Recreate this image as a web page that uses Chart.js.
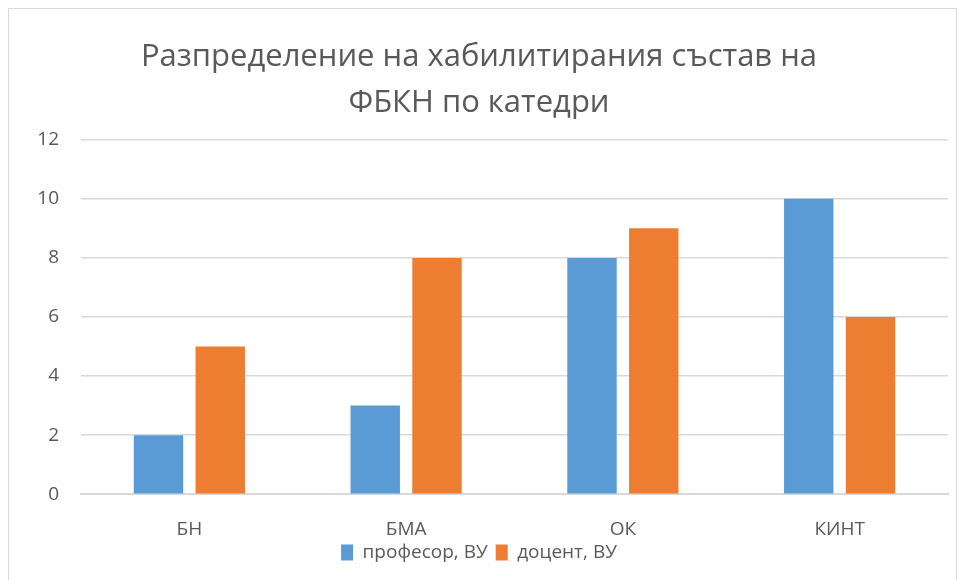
<!DOCTYPE html>
<html>
<head>
<meta charset="utf-8">
<script src="https://cdn.jsdelivr.net/npm/chart.js"></script>
<style>
  html, body { margin: 0; padding: 0; background: #fff; }
  #wrap { position: relative; width: 963px; height: 580px; }
  #frame { position: absolute; left: 8px; top: 8px; width: 949px; height: 600px; border: 1px solid #d9d9d9; box-sizing: border-box; }
  canvas { position: absolute; left: 0; top: 0; }
</style>
</head>
<body>
<div id="wrap">
  <div id="frame"></div>
  <canvas id="chart" width="963" height="580"></canvas>
</div>
<script>
const categories = ["БН", "БМА", "ОК", "КИНТ"];
const seriesNames = ["професор, ВУ", "доцент, ВУ"];
const professors = [2, 3, 8, 10];
const docents = [5, 8, 9, 6];
const titleLines = ["Разпределение на хабилитирания състав на", "ФБКН по катедри"];

const fontFamily = "'Open Sans', sans-serif";

// legend box is taller than in the original: reserve less room for it,
// then pull it up under the labels and give back its full height for drawing
const trim = 29;
const lift = 22;
const tightLegend = {
    id: "tightLegend",
    afterInit(chart) {
        const legend = chart.legend;
        const fit = legend.fit;
        legend.fit = function () {
            fit.call(this);
            this.height -= trim;
        };
    },
    afterLayout(chart) {
        const legend = chart.legend;
        legend.top -= lift;
        legend.bottom += trim - lift;
        legend.height += trim;
    }
};

new Chart(document.getElementById("chart"), {
    type: "bar",
    data: {
        labels: categories,
        datasets: [{
            label: seriesNames[0],
            data: professors,
            backgroundColor: "#5b9bd5",
            barPercentage: 0.8,
            categoryPercentage: 0.57
        }, {
            label: seriesNames[1],
            data: docents,
            backgroundColor: "#ed7d31",
            barPercentage: 0.8,
            categoryPercentage: 0.57
        }]
    },
    plugins: [tightLegend],
    options: {
        responsive: false,
        animation: false,
        layout: { padding: { left: 10, right: 15, top: 34, bottom: 15 } },
        plugins: {
            title: {
                display: true,
                text: titleLines,
                color: "#595959",
                font: { family: fontFamily, size: 31, weight: "normal", lineHeight: 1.48 },
                padding: { top: 0, bottom: 14 }
            },
            legend: {
                position: "bottom",
                labels: {
                    color: "#595959",
                    font: { family: fontFamily, size: 19 },
                    boxWidth: 12,
                    boxHeight: 16,
                    padding: 8
                }
            },
            tooltip: { enabled: false }
        },
        scales: {
            x: {
                grid: { display: false },
                border: { color: "#d9d9d9", width: 2 },
                ticks: { color: "#595959", font: { family: fontFamily, size: 19 }, padding: 16 }
            },
            y: {
                min: 0,
                max: 12,
                ticks: { stepSize: 2, color: "#595959", font: { family: fontFamily, size: 19 }, padding: 22 },
                grid: { color: "#d9d9d9", lineWidth: 1.5, drawTicks: false },
                border: { display: false },
                afterFit: scale => { scale.width = 71; }
            }
        }
    }
});
</script>
</body>
</html>
